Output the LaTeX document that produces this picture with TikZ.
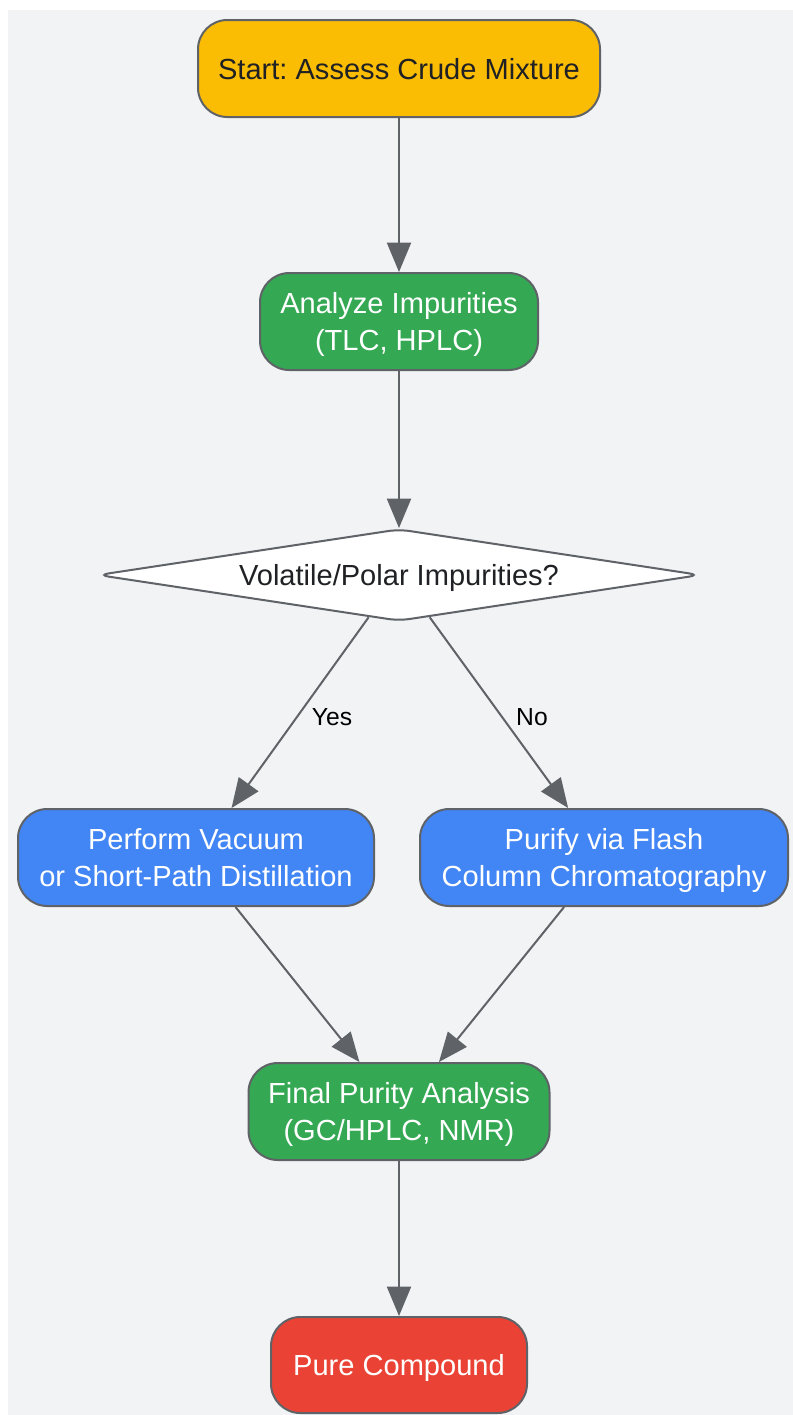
\documentclass[tikz,border=0pt]{standalone}
\usepackage{fontspec}
\setmainfont{Liberation Sans}
\frenchspacing
\usetikzlibrary{arrows.meta,shapes.geometric}
\definecolor{bggray}{HTML}{F1F3F4}
\definecolor{edgegray}{HTML}{5F6368}
\definecolor{gyellow}{HTML}{FBBC04}
\definecolor{ggreen}{HTML}{34A853}
\definecolor{gblue}{HTML}{4285F4}
\definecolor{gred}{HTML}{EA4335}
\definecolor{darktext}{HTML}{202124}
\tikzset{
  box/.style={draw=edgegray, line width=1.5pt, rounded corners=22pt, minimum height=72.75pt,
    align=center, inner sep=0pt, text depth=0pt, font=\fontsize{21.8}{27.75}\selectfont, text=white},
  decision/.style={draw=edgegray, line width=1.5pt, diamond, fill=white, rounded corners=8pt,
    minimum width=452pt, minimum height=69pt, inner sep=0pt, aspect=6.6, text depth=0pt,
    font=\fontsize{21.8}{27.75}\selectfont, text=darktext},
  conn/.style={draw=edgegray, line width=1.5pt, -{Triangle[length=22pt,width=18pt]}},
  lbl/.style={font=\fontsize{18.5}{22}\selectfont, text=black, inner sep=0pt}
}
\begin{document}
\begin{tikzpicture}[x=0.75pt,y=-0.75pt]
\useasboundingbox (0,0) rectangle (793,1415);
\fill[bggray] (8,10) rectangle (793,1415);
\node[box, fill=gyellow, text=darktext, minimum width=301.5pt] (start) at (399,68.5) {Start: Assess Crude Mixture};
\node[box, fill=ggreen, minimum width=208.5pt] (analyze) at (399,321.5) {Analyze Impurities\\(TLC, HPLC)};
\node[decision] (dia) at (399,575) {Volatile/Polar Impurities?};
\node[box, fill=gblue, minimum width=267pt] (perform) at (196,857.5) {Perform Vacuum\\or Short-Path Distillation};
\node[box, fill=gblue, minimum width=276pt] (purify) at (604,857.5) {Purify via Flash\\Column Chromatography};
\node[box, fill=ggreen, minimum width=225.75pt] (final) at (399,1111.5) {Final Purity Analysis\\(GC/HPLC, NMR)};
\node[box, fill=gred, minimum width=192pt, minimum height=72pt] (pure) at (399,1365) {Pure Compound};
\draw[conn] (start) -- (analyze);
\draw[conn] (analyze) -- (dia);
\draw[conn] (dia) -- (perform);
\draw[conn] (dia) -- (purify);
\draw[conn] (perform) -- (final);
\draw[conn] (purify) -- (final);
\draw[conn] (final) -- (pure);
\node[lbl] (yes) at (332,717) {Yes};
\node[lbl] (no) at (532,717) {No};
\end{tikzpicture}
\end{document}
